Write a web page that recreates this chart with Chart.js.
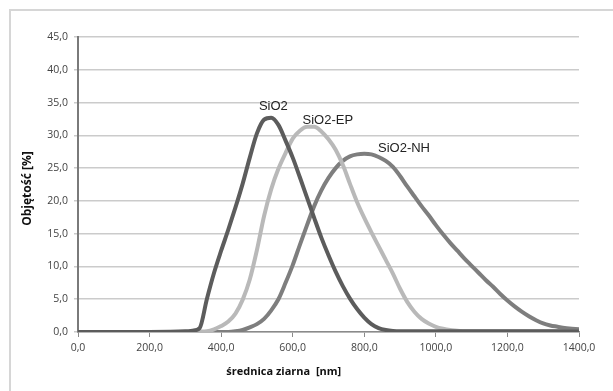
<!DOCTYPE html>
<html>
<head>
<meta charset="utf-8">
<script src="https://cdn.jsdelivr.net/npm/chart.js@4"></script>
<style>
    html, body { margin: 0; padding: 0; background: #fff; }
    #wrap { width: 613px; height: 391px; position: relative; }
</style>
</head>
<body>
<div id="wrap"><canvas id="chart"></canvas></div>
<script>
// grain size [nm]
const sizes = [0, 100, 200, 300, 320, 340, 360, 380, 400, 420, 440, 460, 480, 500,
    520, 540, 560, 580, 600, 620, 640, 660, 680, 700, 720, 740, 760, 780, 800,
    820, 840, 860, 880, 900, 920, 940, 960, 980, 1000, 1020, 1040, 1060, 1080,
    1100, 1120, 1140, 1160, 1180, 1200, 1220, 1240, 1260, 1280, 1300, 1320,
    1340, 1360, 1380, 1400];

const sio2 = [0, 0, 0, 0.1, 0.2, 0.6, 5.0, 9.0, 12.4, 15.6, 19.0, 22.6, 26.6, 30.3,
    32.4, 32.7, 31.6, 29.2, 26.6, 23.6, 20.5, 17.4, 14.4, 11.7, 9.2, 7.0, 5.1,
    3.5, 2.2, 1.2, 0.6, 0.3, 0.15, 0.1, 0.1, 0.1, 0.1, 0.1, 0.1, 0.1, 0.1, 0.1,
    0.1, 0.1, 0.1, 0.1, 0.1, 0.1, 0.1, 0.1, 0.1, 0.1, 0.1, 0.1, 0.1, 0.1, 0.1,
    0.1, 0.1];

const sio2Ep = [0, 0, 0, 0, 0, 0.05, 0.1, 0.4, 0.9, 1.6, 2.8, 4.9, 8.0, 12.5,
    17.7, 21.8, 24.9, 27.3, 29.5, 30.7, 31.3, 31.3, 30.6, 29.4, 27.8, 25.5, 22.6,
    19.8, 17.4, 15.2, 13.1, 11.0, 8.9, 6.6, 4.6, 3.1, 2.0, 1.3, 0.8, 0.5, 0.3,
    0.2, 0.1, 0.1, 0.1, 0.1, 0.1, 0.1, 0.1, 0.1, 0.1, 0.1, 0.1, 0.1, 0.1, 0.1,
    0.1, 0.1, 0.1];

const sio2Nh = [0, 0, 0, 0, 0, 0, 0, 0, 0, 0, 0.1, 0.3, 0.7, 1.2,
    2.0, 3.3, 5.0, 7.5, 10.2, 13.3, 16.3, 19.2, 21.6, 23.5, 25.0, 26.1, 26.8,
    27.1, 27.2, 27.1, 26.7, 26.1, 25.2, 23.8, 22.2, 20.7, 19.2, 17.8, 16.3, 14.9,
    13.6, 12.4, 11.2, 10.1, 9.0, 7.9, 6.9, 5.8, 4.8, 3.9, 3.1, 2.4, 1.8, 1.3,
    1.0, 0.8, 0.6, 0.5, 0.4];

const seriesNames = ["SiO2", "SiO2-EP", "SiO2-NH"];
const seriesColors = ["#5c5c5c", "#b9b9b9", "#7e7e7e"];
// where each series name sits, in data units
const labelX = [546, 698, 911];
const labelY = [34.4, 32.2, 28.0];

const yTitle = "Objętość [%]";
const xTitle = "średnica ziarna  [nm]";

const fmt = (v) => Number(v).toFixed(1).replace(".", ",");

function toPoints(values) {
    return values.map((v, i) => ({ x: sizes[i], y: v }));
}

const frame = {
    id: "frame",
    beforeDraw(chart) {
        const ctx = chart.ctx;
        ctx.save();
        ctx.fillStyle = "#fff";
        ctx.fillRect(0, 0, chart.width, chart.height);
        ctx.strokeStyle = "#d6d6d6";
        ctx.lineWidth = 2;
        ctx.strokeRect(10, 10, chart.width + 20, chart.height + 20);
        ctx.restore();
    },
    afterDraw(chart) {
        const ctx = chart.ctx;
        const xs = chart.scales.x;
        const ys = chart.scales.y;
        ctx.save();
        ctx.fillStyle = "#222";
        ctx.font = "13px 'Liberation Sans', Arial, sans-serif";
        ctx.textAlign = "center";
        ctx.textBaseline = "middle";
        seriesNames.forEach((name, i) => {
            ctx.fillText(name, xs.getPixelForValue(labelX[i]), ys.getPixelForValue(labelY[i]));
        });

        ctx.fillStyle = "#111";
        ctx.font = "bold 11px 'Open Sans', sans-serif";
        ctx.fillText(xTitle, xs.getPixelForValue(575), chart.chartArea.bottom + 40);

        ctx.translate(28, (chart.chartArea.top + chart.chartArea.bottom) / 2 + 4);
        ctx.rotate(-Math.PI / 2);
        ctx.font = "bold 12px 'Open Sans', sans-serif";
        ctx.fillText(yTitle, 0, 0);
        ctx.restore();
    },
};

new Chart(document.getElementById("chart"), {
    type: "line",
    data: {
        datasets: seriesNames.map((name, i) => ({
            label: name,
            data: toPoints([sio2, sio2Ep, sio2Nh][i]),
            borderColor: seriesColors[i],
            borderWidth: 4,
            pointRadius: 0,
            cubicInterpolationMode: "monotone",
            fill: false,
        })),
    },
    options: {
        responsive: true,
        maintainAspectRatio: false,
        animation: false,
        layout: { padding: { top: 37, right: 34, bottom: 30, left: 0 } },
        plugins: {
            legend: { display: false },
            tooltip: { enabled: false },
        },
        scales: {
            x: {
                type: "linear",
                min: 0,
                max: 1400,
                afterFit: (s) => { s.height = 29; },
                ticks: {
                    stepSize: 200,
                    padding: 5,
                    color: "#444",
                    font: { family: "'Open Sans', sans-serif", size: 10.5 },
                    callback: fmt,
                    maxRotation: 0,
                },
                grid: {
                    drawOnChartArea: false,
                    drawTicks: true,
                    tickLength: 5,
                    color: "#8a8a8a",
                },
                border: { color: "#8a8a8a", width: 1.5 },
            },
            y: {
                min: 0,
                max: 45,
                afterFit: (s) => { s.width = 78; },
                ticks: {
                    stepSize: 5,
                    padding: 6,
                    color: "#444",
                    font: { family: "'Open Sans', sans-serif", size: 10.5 },
                    callback: fmt,
                },
                grid: {
                    color: "#cbcbcb",
                    lineWidth: 1.5,
                    tickLength: 4,
                },
                border: { color: "#7a7a7a", width: 2 },
            },
        },
    },
    plugins: [frame],
});
</script>
</body>
</html>
